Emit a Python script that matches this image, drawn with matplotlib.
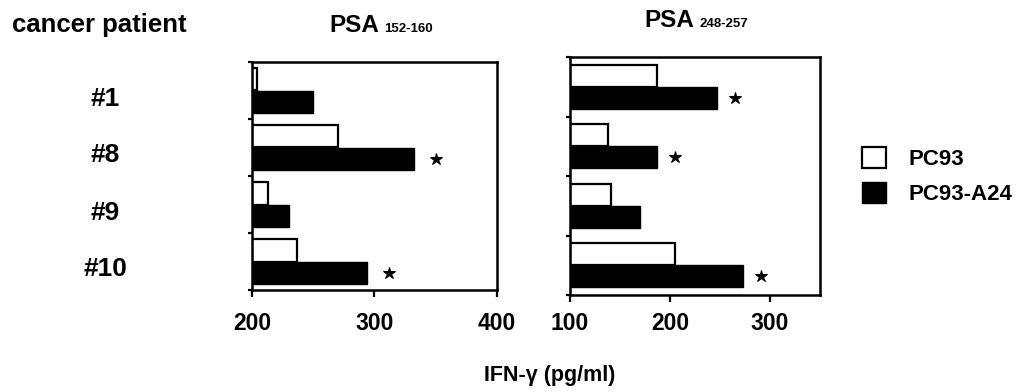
import matplotlib
matplotlib.use('Agg')
import matplotlib.pyplot as plt
from matplotlib.patches import Patch
import matplotlib.transforms as mtransforms
import numpy as np

plt.rcParams['font.family'] = ['Liberation Sans', 'DejaVu Sans']
plt.rcParams['font.weight'] = 'bold'

# ---- data ----
patients = ['#1', '#8', '#9', '#10']
series_names = ['PC93', 'PC93-A24']

psa152_pc93 = [204, 270, 213, 237]
psa152_a24 = [250, 332, 230, 294]
psa152_sig = [False, True, False, True]
psa152_ticks = [200, 300, 400]

psa248_pc93 = [187, 138, 141, 205]
psa248_a24 = [247, 187, 170, 273]
psa248_sig = [True, True, False, True]
psa248_ticks = [100, 200, 300]

W, H = 1019, 392
fig = plt.figure(figsize=(W / 100, H / 100), dpi=100)


def px_axes(x0, y0, x1, y1):
    return fig.add_axes([x0 / W, 1 - y1 / H, (x1 - x0) / W, (y1 - y0) / H])


ax1 = px_axes(252, 62, 497, 290)
ax2 = px_axes(570, 57, 820, 295)

STAR_OFFSET = 18


def draw(ax, base, xmax, ticks, white, black, sig, bh, pad):
    y = np.arange(len(patients))
    ax.barh(y - bh / 2, np.array(white) - base, left=base, height=bh,
            color='white', edgecolor='black', linewidth=1.6)
    ax.barh(y + bh / 2, np.array(black) - base, left=base, height=bh,
            color='black', edgecolor='black', linewidth=1.0)
    for yi, v, s in zip(y, black, sig):
        if s:
            ax.plot(v + STAR_OFFSET, yi + bh / 2, marker='*', color='black',
                    ms=9, mew=0.8)
    ax.set_xlim(base, xmax)
    ax.set_ylim(len(patients) - 0.5, -0.5)
    ax.set_xticks(ticks)
    ax.set_xticklabels([str(t) for t in ticks])
    ax.set_yticks(np.arange(-0.5, len(patients) + 0.5, 1))
    ax.set_yticklabels([])
    for sp in ax.spines.values():
        sp.set_linewidth(1.8)
    ax.tick_params(axis='x', direction='out', length=5, width=1.6,
                   labelsize=16.5, pad=pad)
    ax.tick_params(axis='y', direction='out', length=3, width=1.6)


draw(ax1, 200, 400, psa152_ticks, psa152_pc93, psa152_a24, psa152_sig, 0.39, 11)
draw(ax2, 100, 350, psa248_ticks, psa248_pc93, psa248_a24, psa248_sig, 0.37, 7.5)

# titles
fig.text(379 / W, 1 - 32 / H, 'PSA', fontsize=17.5, ha='right', va='baseline')
fig.text(384 / W, 1 - 32 / H, '152-160', fontsize=9.5, ha='left', va='baseline')
fig.text(694 / W, 1 - 27 / H, 'PSA', fontsize=17.5, ha='right', va='baseline')
fig.text(699 / W, 1 - 27 / H, '248-257', fontsize=9.5, ha='left', va='baseline')

# row header and patient labels
fig.text(12 / W, 1 - 25 / H, 'cancer patient', fontsize=18.5, ha='left', va='center')
trans = mtransforms.blended_transform_factory(fig.transFigure, ax1.transData) + \
    mtransforms.ScaledTranslation(0, -8 / 100, fig.dpi_scale_trans)
for i, p in enumerate(patients):
    fig.text(105 / W, i, p, fontsize=19, ha='center', va='center', transform=trans)

# x label
fig.text(550 / W, 1 - 376 / H, 'IFN-γ (pg/ml)', fontsize=15.5, ha='center', va='center')

# legend
handles = [Patch(facecolor='white', edgecolor='black', linewidth=1.6, label=series_names[0]),
           Patch(facecolor='black', edgecolor='black', linewidth=1.0, label=series_names[1])]
fig.legend(handles=handles, loc='upper left', bbox_to_anchor=(862 / W, 1 - 147 / H),
           frameon=False, fontsize=16, handlelength=1.1, handleheight=1.05,
           handletextpad=1.0, labelspacing=0.55, borderpad=0, borderaxespad=0)

fig.savefig('out.png', dpi=100)
